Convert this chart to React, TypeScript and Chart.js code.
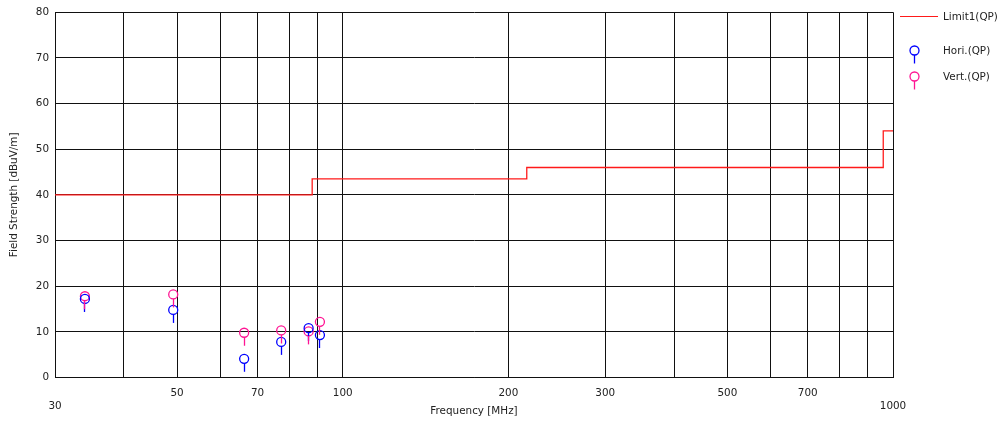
import React, { useEffect, useRef } from "react";
import { Chart, registerables } from "chart.js";

Chart.register(...registerables);

const limitFreq = [30, 88, 88, 216, 216, 960, 960, 1000];
const limitLevel = [40, 40, 43.5, 43.5, 46, 46, 54, 54];

const measFreq = [34.0, 49.2, 66.2, 77.3, 86.7, 90.9];
const horiQP = [17.2, 14.8, 4.1, 7.8, 10.8, 9.3];
const vertQP = [17.8, 18.2, 9.8, 10.3, 10.1, 12.2];

const xGridValues = [30, 40, 50, 60, 70, 80, 90, 100, 200, 300, 400, 500, 600, 700, 800, 900, 1000];
const xLabelValues = [30, 50, 70, 100, 200, 300, 500, 700, 1000];
const xLowLabels = [30, 1000];

const FONT = "DejaVu Sans";
const FS = 10.4;
const RED = "#ff1a1a";
const BLUE = "#0000ff";
const PINK = "#ff1493";
const R = 4.5;
const STEM = 13;

function drawStem(ctx: CanvasRenderingContext2D, x: number, y: number, color: string) {
  const sx = Math.round(x - 0.5) + 0.5;
  ctx.strokeStyle = color;
  ctx.lineWidth = 1.3;
  ctx.beginPath();
  ctx.moveTo(sx, y + R);
  ctx.lineTo(sx, y + STEM);
  ctx.stroke();
}

export default function App() {
  const ref = useRef<HTMLCanvasElement | null>(null);

  useEffect(() => {
    if (!ref.current) return;

    const stemPlugin = {
      id: "stems",
      afterDatasetsDraw(chart: any) {
        const ctx = chart.ctx as CanvasRenderingContext2D;
        ctx.save();
        chart.data.datasets.forEach((ds: any, i: number) => {
          if (!ds.stem) return;
          const meta = chart.getDatasetMeta(i);
          meta.data.forEach((el: any) => drawStem(ctx, el.x, el.y, ds.borderColor));
        });
        ctx.restore();
      },
    };

    const legendPlugin = {
      id: "customLegend",
      afterDraw(chart: any) {
        const ctx = chart.ctx as CanvasRenderingContext2D;
        ctx.save();
        ctx.font = `${FS}px "${FONT}"`;
        ctx.fillStyle = "#222";
        ctx.textBaseline = "middle";
        ctx.textAlign = "left";
        ctx.strokeStyle = RED;
        ctx.lineWidth = 1.2;
        ctx.beginPath();
        ctx.moveTo(900, 16.5);
        ctx.lineTo(938, 16.5);
        ctx.stroke();
        ctx.fillText("Limit1(QP)", 943, 17.5);
        const marks: [string, string, number][] = [
          ["Hori.(QP)", BLUE, 50.5],
          ["Vert.(QP)", PINK, 76.5],
        ];
        marks.forEach(([label, color, y]) => {
          ctx.strokeStyle = color;
          ctx.lineWidth = 1.3;
          ctx.beginPath();
          ctx.arc(914.5, y, R, 0, Math.PI * 2);
          ctx.stroke();
          drawStem(ctx, 914.5, y, color);
          ctx.fillText(label, 943, y + 0.5);
        });
        ctx.restore();
      },
    };

    const chart = new Chart(ref.current, {
      type: "line",
      data: {
        datasets: [
          {
            label: "Hori.(QP)",
            type: "scatter",
            data: measFreq.map((f, i) => ({ x: f, y: horiQP[i] })),
            pointStyle: "circle",
            pointRadius: R,
            pointBorderWidth: 1.3,
            borderColor: BLUE,
            backgroundColor: "rgba(0,0,0,0)",
            showLine: false,
            stem: true,
          },
          {
            label: "Vert.(QP)",
            type: "scatter",
            data: measFreq.map((f, i) => ({ x: f, y: vertQP[i] })),
            pointStyle: "circle",
            pointRadius: R,
            pointBorderWidth: 1.3,
            borderColor: PINK,
            backgroundColor: "rgba(0,0,0,0)",
            showLine: false,
            stem: true,
          },
          {
            label: "Limit1(QP)",
            data: limitFreq.map((f, i) => ({ x: f, y: limitLevel[i] })),
            borderColor: RED,
            borderWidth: 1.3,
            pointRadius: 0,
            tension: 0,
            fill: false,
          },
        ],
      },
      options: {
        animation: false,
        responsive: false,
        maintainAspectRatio: false,
        layout: { padding: { left: 0, top: 9.5, right: 110, bottom: 0 } },
        plugins: {
          legend: { display: false },
          tooltip: { enabled: false },
        },
        scales: {
          x: {
            type: "logarithmic",
            min: 30,
            max: 1000,
            afterFit: (s: any) => {
              s.height = 43.5;
            },
            afterBuildTicks: (s: any) => {
              s.ticks = xGridValues.map((v) => ({ value: v }));
            },
            ticks: {
              autoSkip: false,
              maxRotation: 0,
              padding: 10,
              color: "#222",
              font: { family: FONT, size: FS },
              callback: (v: any) => {
                const n = Number(v);
                if (!xLabelValues.includes(n)) return "";
                if (xLowLabels.includes(n)) return ["", String(n)];
                return String(n);
              },
            },
            grid: { color: "#111", lineWidth: 1, drawTicks: false },
            border: { color: "#111", width: 1 },
            title: {
              display: true,
              text: "Frequency [MHz]",
              color: "#222",
              font: { family: FONT, size: FS },
              padding: { top: 0, bottom: 3.2 },
            },
          },
          y: {
            min: 0,
            max: 80,
            afterFit: (s: any) => {
              s.width = 55;
            },
            ticks: {
              stepSize: 10,
              padding: 6,
              color: "#222",
              font: { family: FONT, size: FS },
            },
            grid: { color: "#111", lineWidth: 1, drawTicks: false },
            border: { color: "#111", width: 1 },
            title: {
              display: true,
              text: "Field Strength [dBuV/m]",
              color: "#222",
              font: { family: FONT, size: FS },
              padding: { top: 7.7, bottom: 0 },
            },
          },
        },
      },
      plugins: [stemPlugin, legendPlugin],
    } as any);
    return () => chart.destroy();
  }, []);

  return (
    <div style={{ position: "absolute", left: 0, top: 0, width: 1003, height: 421, background: "#fff" }}>
      <canvas ref={ref} width={1003} height={421} style={{ display: "block", width: 1003, height: 421 }} />
    </div>
  );
}
